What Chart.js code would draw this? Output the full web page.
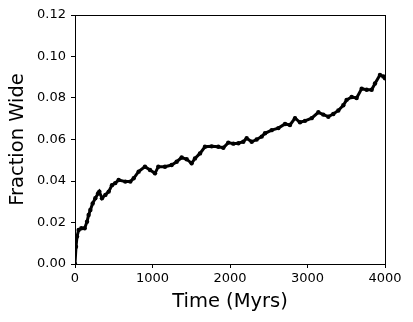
<!DOCTYPE html>
<html>
<head>
<meta charset="utf-8">
<script src="https://cdn.jsdelivr.net/npm/chart.js@4/dist/chart.umd.min.js"></script>
<style>
  html, body { margin: 0; padding: 0; background: #fff; }
  #wrap { width: 413px; height: 322px; position: relative; }
</style>
</head>
<body>
<div id="wrap"><canvas id="c" width="413" height="322"></canvas></div>
<script>
const timesMyr = [0, 13, 26, 47, 82, 125, 155, 176, 198, 228, 262, 297, 314, 348, 392, 435, 477, 520, 563, 649, 714, 757, 821, 903, 968, 1032, 1075, 1161, 1247, 1312, 1376, 1441, 1505, 1548, 1613, 1677, 1763, 1849, 1914, 1978, 2043, 2108, 2172, 2215, 2280, 2344, 2409, 2452, 2538, 2624, 2710, 2774, 2839, 2903, 2968, 3054, 3140, 3204, 3269, 3333, 3398, 3462, 3505, 3570, 3634, 3699, 3763, 3828, 3871, 3935, 3978, 4000];
const fractionWide = [0.000, 0.0083, 0.0132, 0.0164, 0.0172, 0.0172, 0.0204, 0.0236, 0.0260, 0.0292, 0.0317, 0.0340, 0.0349, 0.0317, 0.0333, 0.0349, 0.0380, 0.0390, 0.0405, 0.0397, 0.0397, 0.0413, 0.0445, 0.0469, 0.0453, 0.0437, 0.0469, 0.0469, 0.0477, 0.0493, 0.0513, 0.0505, 0.0485, 0.0509, 0.0533, 0.0565, 0.0567, 0.0565, 0.0560, 0.0585, 0.0580, 0.0582, 0.0589, 0.0606, 0.0589, 0.0600, 0.0614, 0.0630, 0.0645, 0.0655, 0.0675, 0.0670, 0.0703, 0.0683, 0.0690, 0.0703, 0.0731, 0.0720, 0.0710, 0.0723, 0.0740, 0.0765, 0.0791, 0.0805, 0.0800, 0.0845, 0.0840, 0.0840, 0.0870, 0.0911, 0.0904, 0.0895];
const xTickValues = [0, 1000, 2000, 3000, 4000];
const yTickValues = [0, 0.02, 0.04, 0.06, 0.08, 0.10, 0.12];
const xTitle = 'Time (Myrs)';
const yTitle = 'Fraction Wide';

const points = timesMyr.map((t, i) => ({ x: t, y: fractionWide[i] }));
const FONT = "'DejaVu Sans', sans-serif";

const frame = {
  id: 'frame',
  afterDraw(chart) {
    const { ctx, chartArea: a } = chart;
    ctx.save();
    ctx.strokeStyle = '#000';
    ctx.lineWidth = 1;
    ctx.strokeRect(Math.round(a.left) + 0.5, Math.round(a.top) + 0.5, Math.round(a.right - a.left), Math.round(a.bottom - a.top));
    ctx.restore();
  }
};

new Chart(document.getElementById('c'), {
  type: 'scatter',
  data: {
    datasets: [{
      data: points,
      showLine: true,
      borderColor: '#000',
      borderWidth: 3,
      backgroundColor: '#000',
      pointRadius: 2.2,
      pointBorderWidth: 0,
      tension: 0
    }]
  },
  options: {
    responsive: false,
    animation: false,
    layout: { padding: { top: 15, right: 28, left: 0, bottom: 0 } },
    plugins: { legend: { display: false }, tooltip: { enabled: false } },
    scales: {
      x: {
        type: 'linear',
        min: 0, max: 4000,
        afterBuildTicks: s => { s.ticks = xTickValues.map(v => ({ value: v })); },
        afterFit: s => { s.height = 58; },
        grid: { display: true, drawOnChartArea: false, drawTicks: true, tickLength: 4, color: '#000' },
        border: { display: true, color: '#000', width: 1 },
        ticks: { color: '#000', font: { family: FONT, size: 13 }, padding: 3, maxRotation: 0, callback: v => String(v) },
        title: { display: true, text: xTitle, color: '#000', font: { family: FONT, size: 19.5 }, padding: { top: 0, bottom: 8 } }
      },
      y: {
        type: 'linear',
        min: 0, max: 0.12,
        afterBuildTicks: s => { s.ticks = yTickValues.map(v => ({ value: v })); },
        afterFit: s => { s.width = 75; },
        grid: { display: true, drawOnChartArea: false, drawTicks: true, tickLength: 4, color: '#000' },
        border: { display: true, color: '#000', width: 1 },
        ticks: { color: '#000', font: { family: FONT, size: 13 }, padding: 5, callback: v => Number(v).toFixed(2) },
        title: { display: true, text: yTitle, color: '#000', font: { family: FONT, size: 19.5 }, padding: { top: 6, bottom: 0 } }
      }
    }
  },
  plugins: [frame]
});
</script>
</body>
</html>
